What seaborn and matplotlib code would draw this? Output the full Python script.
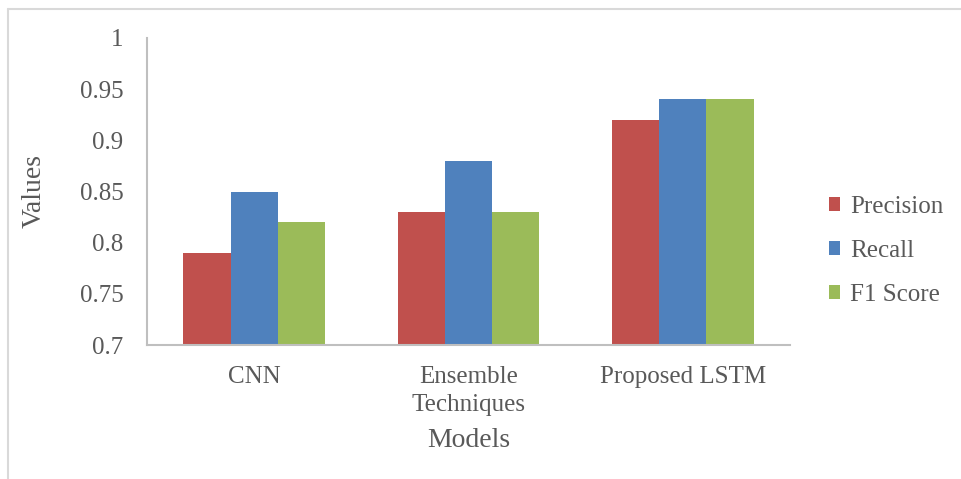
import numpy as np
import pandas as pd
import seaborn as sns
import matplotlib.pyplot as plt
from matplotlib.lines import Line2D

models = ["CNN", "Ensemble\nTechniques", "Proposed LSTM"]
metrics = ["Precision", "Recall", "F1 Score"]
precision = [0.79, 0.83, 0.92]
recall = [0.85, 0.88, 0.94]
f1_score = [0.82, 0.83, 0.94]
colors = ["#C0504D", "#4F81BD", "#9BBB59"]
yticks = [0.7, 0.75, 0.8, 0.85, 0.9, 0.95, 1]

df = pd.DataFrame({
    "Model": models * 3,
    "Metric": np.repeat(metrics, 3),
    "Value": precision + recall + f1_score,
})

sns.set_style("white")
plt.rcParams["font.family"] = ["Liberation Serif", "DejaVu Serif"]
text_col = "#595959"

W, H = 961, 479
fig = plt.figure(figsize=(W / 100, H / 100), dpi=100)
ax = fig.add_axes([147 / W, 1 - 345 / H, (790 - 147) / W, (345 - 38) / H])

sns.barplot(data=df, x="Model", y="Value", hue="Metric", palette=colors,
            width=0.66, gap=0, saturation=1, edgecolor="none", ax=ax)

ax.set_ylim(0.7, 1.0)
ax.set_yticks(yticks)
ax.set_yticklabels([f"{t:g}" for t in yticks])
ax.tick_params(axis="both", length=0, labelsize=18, colors=text_col)
ax.tick_params(axis="y", pad=17)
ax.tick_params(axis="x", pad=15)
for lbl in ax.get_xticklabels():
    lbl.set_linespacing(1.35)

for side in ["top", "right"]:
    ax.spines[side].set_visible(False)
for side in ["left", "bottom"]:
    ax.spines[side].set_color("#BFBFBF")
    ax.spines[side].set_linewidth(1.5)

ax.set_xlabel("Models", fontsize=20, color=text_col, labelpad=9)
ax.set_ylabel("Values", fontsize=20, color=text_col, labelpad=24)

ax.legend(loc="center left", bbox_to_anchor=(806 / W, 1 - 251 / H),
          bbox_transform=fig.transFigure, frameon=False, fontsize=18,
          labelcolor=text_col, handlelength=0.45, handleheight=0.45,
          handletextpad=0.4, labelspacing=0.88)

# light outer chart-area frame (top and left edges visible)
fig.add_artist(Line2D([8 / W, 1], [1 - 9 / H, 1 - 9 / H], color="#D9D9D9", lw=1.5))
fig.add_artist(Line2D([8 / W, 8 / W], [0, 1 - 9 / H], color="#D9D9D9", lw=1.5))

fig.savefig("out.png", dpi=100)
